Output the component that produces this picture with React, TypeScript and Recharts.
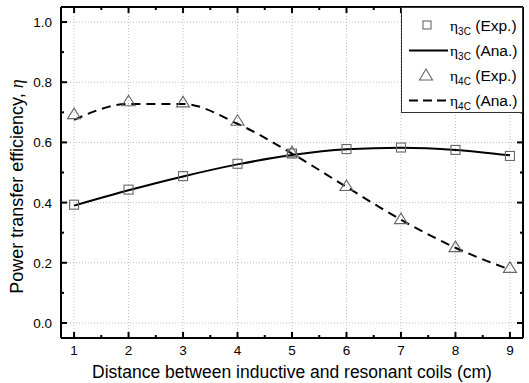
import React from 'react';
import { ComposedChart, Line, XAxis, YAxis, ReferenceLine, Legend } from 'recharts';

const FONT = '"Liberation Sans", Arial, sans-serif';
const SERIF = '"Liberation Serif", "Times New Roman", serif';

// distance between inductive and resonant coils (cm)
const distance = [1, 2, 3, 4, 5, 6, 7, 8, 9];

const eta3cExp = [0.393, 0.443, 0.488, 0.529, 0.563, 0.578, 0.583, 0.575, 0.555];
const eta3cAna = [0.39, 0.441, 0.487, 0.527, 0.558, 0.577, 0.582, 0.575, 0.557];
const eta4cExp = [0.694, 0.737, 0.733, 0.672, 0.567, 0.455, 0.345, 0.252, 0.183];
const eta4cAna = [0.675, 0.728, 0.728, 0.662, 0.563, 0.452, 0.343, 0.25, 0.177];

const xMajorTicks = [1, 2, 3, 4, 5, 6, 7, 8, 9];
const xAllTicks = [1, 1.5, 2, 2.5, 3, 3.5, 4, 4.5, 5, 5.5, 6, 6.5, 7, 7.5, 8, 8.5, 9];
const yMajorTicks = [0, 0.2, 0.4, 0.6, 0.8, 1.0];
const yAllTicks = [0, 0.1, 0.2, 0.3, 0.4, 0.5, 0.6, 0.7, 0.8, 0.9, 1.0];

const data = distance.map((d, i) => ({
  d,
  exp3: eta3cExp[i],
  ana3: eta3cAna[i],
  exp4: eta4cExp[i],
  ana4: eta4cAna[i],
}));

const isMajorX = (v: number) => Number.isInteger(v);
const isMajorY = (v: number) => Math.round(v * 10) % 2 === 0;

const BottomTick = ({ x, y, payload }: any) => {
  const major = isMajorX(payload.value);
  return (
    <g>
      <line x1={x} x2={x} y1={y} y2={y - (major ? 6 : 3)} stroke="#000" strokeWidth={2} />
      {major && (
        <text x={x} y={y + 17} textAnchor="middle" fontSize={13.5} fill="#000" fontFamily={FONT}>
          {payload.value}
        </text>
      )}
    </g>
  );
};

const TopTick = ({ x, y, payload }: any) => (
  <line x1={x} x2={x} y1={y} y2={y + (isMajorX(payload.value) ? 6 : 3)} stroke="#000" strokeWidth={2} />
);

const LeftTick = ({ x, y, payload }: any) => {
  const major = isMajorY(payload.value);
  return (
    <g>
      <line x1={x} x2={x + (major ? 6 : 3)} y1={y} y2={y} stroke="#000" strokeWidth={2} />
      {major && (
        <text x={x - 9} y={y + 5} textAnchor="end" fontSize={13.5} fill="#000" fontFamily={FONT}>
          {payload.value.toFixed(1)}
        </text>
      )}
    </g>
  );
};

const RightTick = ({ x, y, payload }: any) => (
  <line x1={x} x2={x - (isMajorY(payload.value) ? 6 : 3)} y1={y} y2={y} stroke="#000" strokeWidth={2} />
);

const XTitle = ({ viewBox }: any) => (
  <text
    x={viewBox.x + viewBox.width / 2}
    y={viewBox.y + 40}
    textAnchor="middle"
    fontSize={17.5}
    fill="#000"
    fontFamily={FONT}
  >
    Distance between inductive and resonant coils (cm)
  </text>
);

const YTitle = ({ viewBox }: any) => {
  const cx = viewBox.x + 17;
  const cy = viewBox.y + viewBox.height / 2 + 14;
  return (
    <text
      x={cx}
      y={cy}
      transform={`rotate(-90, ${cx}, ${cy})`}
      textAnchor="middle"
      dominantBaseline="central"
      fontSize={18}
      fill="#000"
      fontFamily={FONT}
    >
      Power transfer efficiency,{' '}
      <tspan fontFamily={SERIF} fontStyle="italic">η</tspan>
    </text>
  );
};

const SquareDot = ({ cx, cy, index }: any) => (
  <rect key={`sq-${index}`} x={cx - 4.5} y={cy - 4.5} width={9} height={9} fill="none" stroke="#666" strokeWidth={1.1} />
);

const TriangleDot = ({ cx, cy, index }: any) => (
  <polygon
    key={`tr-${index}`}
    points={`${cx},${cy - 6} ${cx - 6.5},${cy + 4.5} ${cx + 6.5},${cy + 4.5}`}
    fill="none"
    stroke="#666"
    strokeWidth={1.1}
  />
);

const legendRows = [
  { kind: 'square', sub: '3C', tag: '(Exp.)' },
  { kind: 'solid', sub: '3C', tag: '(Ana.)' },
  { kind: 'triangle', sub: '4C', tag: '(Exp.)' },
  { kind: 'dashed', sub: '4C', tag: '(Ana.)' },
];

const LegendSymbol = ({ kind }: { kind: string }) => (
  <svg width={48} height={25} style={{ display: 'block' }}>
    {kind === 'square' && <rect x={21} y={8} width={8} height={8} fill="none" stroke="#666" strokeWidth={1.1} />}
    {kind === 'triangle' && <polygon points="24,6 17.5,17 30.5,17" fill="none" stroke="#666" strokeWidth={1.1} />}
    {kind === 'solid' && <line x1={7} x2={46} y1={12.5} y2={12.5} stroke="#000" strokeWidth={2} />}
    {kind === 'dashed' && <line x1={7} x2={46} y1={12.5} y2={12.5} stroke="#000" strokeWidth={2} strokeDasharray="9 5" />}
  </svg>
);

const LegendBox = () => (
  <div
    style={{
      boxSizing: 'border-box',
      width: 122,
      height: 106,
      border: '1px solid #333',
      background: '#fff',
      paddingTop: 5,
      fontFamily: FONT,
      fontSize: 15.5,
      color: '#000',
    }}
  >
    {legendRows.map((r) => (
      <div key={r.kind} style={{ display: 'flex', alignItems: 'center', height: 25, whiteSpace: 'nowrap' }}>
        <LegendSymbol kind={r.kind} />
        <span>
          <span style={{ fontFamily: SERIF }}>η</span>
          <span style={{ fontSize: 10, position: 'relative', top: 4 }}>{r.sub}</span> {r.tag}
        </span>
      </div>
    ))}
  </div>
);

export default function App() {
  return (
    <div style={{ position: 'absolute', left: 0, top: 0, background: '#fff' }}>
      <ComposedChart width={529} height={383} data={data} margin={{ top: 0, right: 0, bottom: 0, left: 0 }}>
        <XAxis
          dataKey="d"
          type="number"
          domain={[0.76, 9.24]}
          allowDataOverflow
          ticks={xAllTicks}
          interval={0}
          height={45}
          tickSize={0}
          tickMargin={0}
          tickLine={false}
          tick={<BottomTick />}
          axisLine={{ stroke: '#000', strokeWidth: 2 }}
          label={{ content: XTitle }}
        />
        <XAxis
          xAxisId="top"
          orientation="top"
          dataKey="d"
          type="number"
          domain={[0.76, 9.24]}
          allowDataOverflow
          ticks={xAllTicks}
          interval={0}
          height={7}
          tickSize={0}
          tickMargin={0}
          tickLine={false}
          tick={<TopTick />}
          axisLine={{ stroke: '#000', strokeWidth: 2 }}
        />
        <YAxis
          type="number"
          domain={[-0.05, 1.05]}
          allowDataOverflow
          ticks={yAllTicks}
          interval={0}
          width={61}
          tickSize={0}
          tickMargin={0}
          tickLine={false}
          tick={<LeftTick />}
          axisLine={{ stroke: '#000', strokeWidth: 2 }}
          label={{ content: YTitle }}
        />
        <YAxis
          yAxisId="right"
          orientation="right"
          type="number"
          domain={[-0.05, 1.05]}
          allowDataOverflow
          ticks={yAllTicks}
          interval={0}
          width={6}
          tickSize={0}
          tickMargin={0}
          tickLine={false}
          tick={<RightTick />}
          axisLine={{ stroke: '#000', strokeWidth: 2 }}
        />

        {xMajorTicks.map((v) => (
          <ReferenceLine key={`gx-${v}`} x={v} stroke="#bdbdbd" strokeDasharray="1 2" />
        ))}
        {yMajorTicks.map((v) => (
          <ReferenceLine key={`gy-${v}`} y={v} stroke="#bdbdbd" strokeDasharray="1 2" />
        ))}

        <Line type="monotone" dataKey="ana3" stroke="#000" strokeWidth={2} dot={false} activeDot={false} isAnimationActive={false} />
        <Line
          type="monotone"
          dataKey="ana4"
          stroke="#000"
          strokeWidth={2}
          strokeDasharray="9 6"
          dot={false}
          activeDot={false}
          isAnimationActive={false}
        />
        <Line dataKey="exp3" stroke="none" dot={SquareDot} activeDot={false} isAnimationActive={false} />
        <Line dataKey="exp4" stroke="none" dot={TriangleDot} activeDot={false} isAnimationActive={false} />

        <Legend
          layout="vertical"
          align="center"
          verticalAlign="middle"
          wrapperStyle={{ left: 401, top: 7, width: 122, height: 106 }}
          content={<LegendBox />}
        />
      </ComposedChart>
    </div>
  );
}
